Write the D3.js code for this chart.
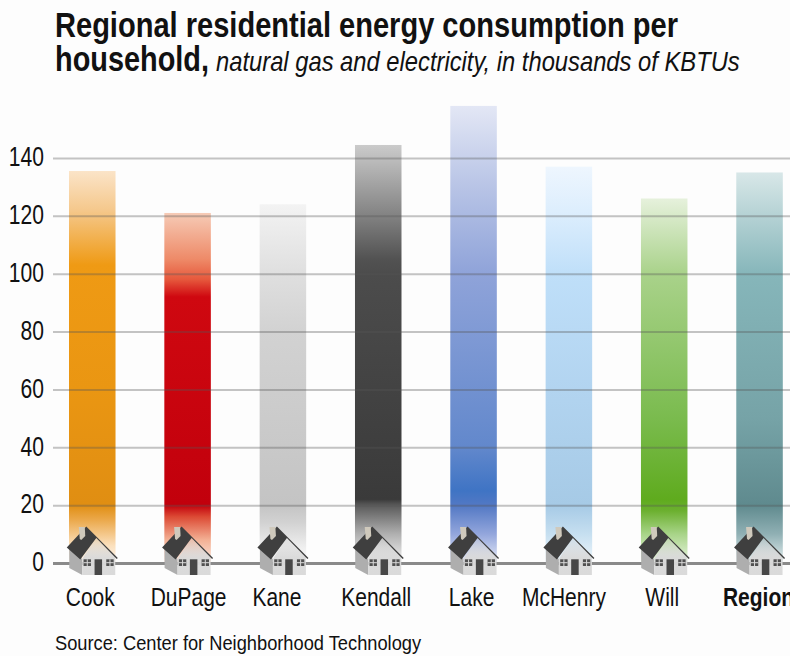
<!DOCTYPE html>
<html>
<head>
<meta charset="utf-8">
<script src="https://cdn.jsdelivr.net/npm/d3@7"></script>
<style>
html, body { margin: 0; padding: 0; background: #fdfdfd; overflow: hidden; }
svg { display: block; font-family: "Liberation Sans", sans-serif; fill: #111; }
</style>
</head>
<body>
<svg></svg>
<script>
const categories = ["Cook", "DuPage", "Kane", "Kendall", "Lake", "McHenry", "Will", "Region"]
const values = [135.5, 121, 124, 144.5, 158, 137, 126, 135]
const yTicks = [0, 20, 40, 60, 80, 100, 120, 140]

// gradient of each bar: [value on the axis, colour]
const barStops = [
    [[135.5, "#fbe4c8"], [122, "#f5c88c"], [103, "#ef9a14"], [60, "#ea9612"], [20, "#e08e12"], [15, "#eba84a"], [6, "#fbe0bd"], [0, "#fdf6ee"]],
    [[121, "#f6cbb6"], [105, "#ee8a68"], [98, "#e6583c"], [92, "#cf0810"], [20, "#c2000c"], [16, "#dc4a34"], [8, "#f3b094"], [0, "#fbe8de"]],
    [[124, "#f3f3f3"], [100, "#dfdfdf"], [80, "#d2d2d2"], [20, "#c4c4c4"], [14, "#d2d2d2"], [5, "#f0f0f0"], [0, "#fafafa"]],
    [[144.5, "#cbcbcb"], [120, "#828282"], [105, "#525252"], [100, "#4c4c4c"], [22, "#3a3a3a"], [20, "#5a5a5a"], [10, "#b0b0b0"], [0, "#f4f4f4"]],
    [[158, "#e3e7f5"], [130, "#b8c4e6"], [100, "#8fa3d9"], [40, "#6288cc"], [25, "#3f74c4"], [20, "#5278c4"], [10, "#93a6dc"], [0, "#e8ecf8"]],
    [[137, "#eef6fe"], [120, "#dbedfd"], [100, "#bfdff9"], [60, "#b2d4f0"], [20, "#a6cae6"], [10, "#c6dff0"], [0, "#eef6fb"]],
    [[126, "#e6f1dc"], [100, "#a9d28a"], [50, "#7abb4e"], [22, "#5fab1e"], [18, "#6cb030"], [10, "#a8d488"], [0, "#eaf5e2"]],
    [[135, "#d8e7e8"], [100, "#86b6ba"], [50, "#76a3a7"], [20, "#5f8a8e"], [10, "#90b0b4"], [0, "#e4eeef"]]
]

let width = 790
let height = 656

// the labels in the picture are not quite centred under their bars
let labelNudge = { DuPage: 3, Kane: -4, McHenry: -3, Region: 1 }

let svg = d3.select("svg")
    .attr("width", width)
    .attr("height", height)

let xScale = d3.scaleBand()
    .domain(categories)
    .range([44.6, 807.2])
    .paddingInner(0.512)
    .paddingOuter(0.256)

let yScale = d3.scaleLinear()
    .domain([0, 140])
    .range([563, 158])

// no condensed face on this machine, so squeeze the text sideways
let squeezed = (x, y, size, sx) => {
    return svg.append("text")
        .attr("transform", "translate(" + x + "," + y + ") scale(" + sx + ",1)")
        .style("font-size", size + "px")
}

let drawTitle = () => {
    squeezed(55, 37, 35, 0.83)
        .style("font-weight", "bold")
        .text("Regional residential energy consumption per")

    squeezed(55, 71, 35, 0.825)
        .style("font-weight", "bold")
        .text("household,")

    squeezed(216, 71, 27, 0.88)
        .style("font-style", "italic")
        .text("natural gas and electricity, in thousands of KBTUs")

    squeezed(55, 650, 21, 0.87)
        .text("Source: Center for Neighborhood Technology")
}

let drawBars = () => {
    let defs = svg.append("defs")

    categories.forEach((cat, i) => {
        let grad = defs.append("linearGradient")
            .attr("id", "bar" + i)
            .attr("gradientUnits", "userSpaceOnUse")
            .attr("x1", 0).attr("x2", 0)
            .attr("y1", yScale(values[i]))
            .attr("y2", yScale(0))
        grad.selectAll("stop")
            .data(barStops[i])
            .join("stop")
            .attr("offset", (s) => 1 - s[0] / values[i])
            .attr("stop-color", (s) => s[1])
    })

    svg.selectAll("rect.bar")
        .data(values)
        .join("rect")
        .attr("class", "bar")
        .attr("x", (d, i) => xScale(categories[i]))
        .attr("width", xScale.bandwidth())
        .attr("y", (d) => yScale(d))
        .attr("height", (d) => yScale(0) - yScale(d))
        .attr("fill", (d, i) => "url(#bar" + i + ")")
}

let drawAxes = () => {
    let yAxis = d3.axisLeft(yScale)
        .tickValues(yTicks)
        .tickSize(0)
        .tickPadding(0)

    let g = svg.append("g")
        .attr("transform", "translate(53,0)")
        .call(yAxis)
    g.select(".domain").remove()
    g.selectAll("text")
        .style("font-size", "27px")
        .style("font-family", "inherit")
        .attr("fill", "#111")
        .attr("x", 0)
        .attr("dy", "0.29em")
        .attr("transform", "translate(-9,0) scale(0.78,1)")
    g.selectAll(".tick line")
        .attr("x2", width - 53)
        .attr("stroke", (d) => d === 0 ? "#8a8a8a" : "#555")
        .attr("stroke-opacity", (d) => d === 0 ? 1 : 0.35)
        .attr("stroke-width", (d) => d === 0 ? 3 : 2)

    let labels = svg.append("g")
    labels.selectAll("text")
        .data(categories)
        .join("text")
        .attr("transform", (d) => {
            let cx = xScale(d) + xScale.bandwidth() / 2 - 2 + (labelNudge[d] || 0)
            return "translate(" + cx + ",606) scale(0.84,1)"
        })
        .attr("text-anchor", "middle")
        .style("font-size", "25px")
        .style("font-weight", (d) => d === "Region" ? "bold" : "normal")
        .text((d) => d)
}

// house icon, in its own little coordinate system: origin on the bar centre at the zero line
let drawHouses = () => {
    let defs = svg.select("defs")
    let wall = defs.append("linearGradient")
        .attr("id", "wall")
        .attr("x1", 0).attr("x2", 0).attr("y1", 0).attr("y2", 1)
    wall.append("stop").attr("offset", 0).attr("stop-color", "#d9d9d9").attr("stop-opacity", 0.25)
    wall.append("stop").attr("offset", 0.55).attr("stop-color", "#d9d9d9").attr("stop-opacity", 0.95)
    wall.append("stop").attr("offset", 1).attr("stop-color", "#dadada")

    let houses = svg.selectAll("g.house")
        .data(categories)
        .join("g")
        .attr("class", "house")
        .attr("transform", (d) => "translate(" + (xScale(d) + xScale.bandwidth() / 2) + "," + yScale(0) + ")")

    houses.append("path").attr("d", "M-23,-14 L-10,-4 L-10,12 L-23,5 Z").attr("fill", "#aeaeae")
    houses.append("path").attr("d", "M-10,-4 L4,-26 L23,-7 L23,12 L-10,12 Z").attr("fill", "url(#wall)")
    houses.append("path").attr("d", "M-25.5,-15.5 L-6,-36.5 L25.5,-5 L24.5,-4 L4,-25 L-12,-3.5 Z").attr("fill", "#3f3f3f")
    houses.append("path").attr("d", "M-13.5,-36 L-7.5,-36 L-7,-27 L-11,-23 L-12.5,-24 Z").attr("fill", "#cfc9bc")
    houses.append("rect").attr("x", 2.3).attr("y", -3.7).attr("width", 7.5).attr("height", 15.7).attr("fill", "#474747")
    ;[-8.7, 14].forEach((wx) => {
        houses.append("rect").attr("x", wx).attr("y", -3.7).attr("width", 7.4).attr("height", 6.7).attr("fill", "#505050")
        houses.append("path").attr("d", "M" + (wx + 3.7) + ",-3.7 v6.7 M" + wx + ",-0.3 h7.4").attr("stroke", "#d9d9d9").attr("stroke-width", 1)
    })
}

drawTitle()
drawBars()
drawAxes()
drawHouses()
</script>
</body>
</html>
